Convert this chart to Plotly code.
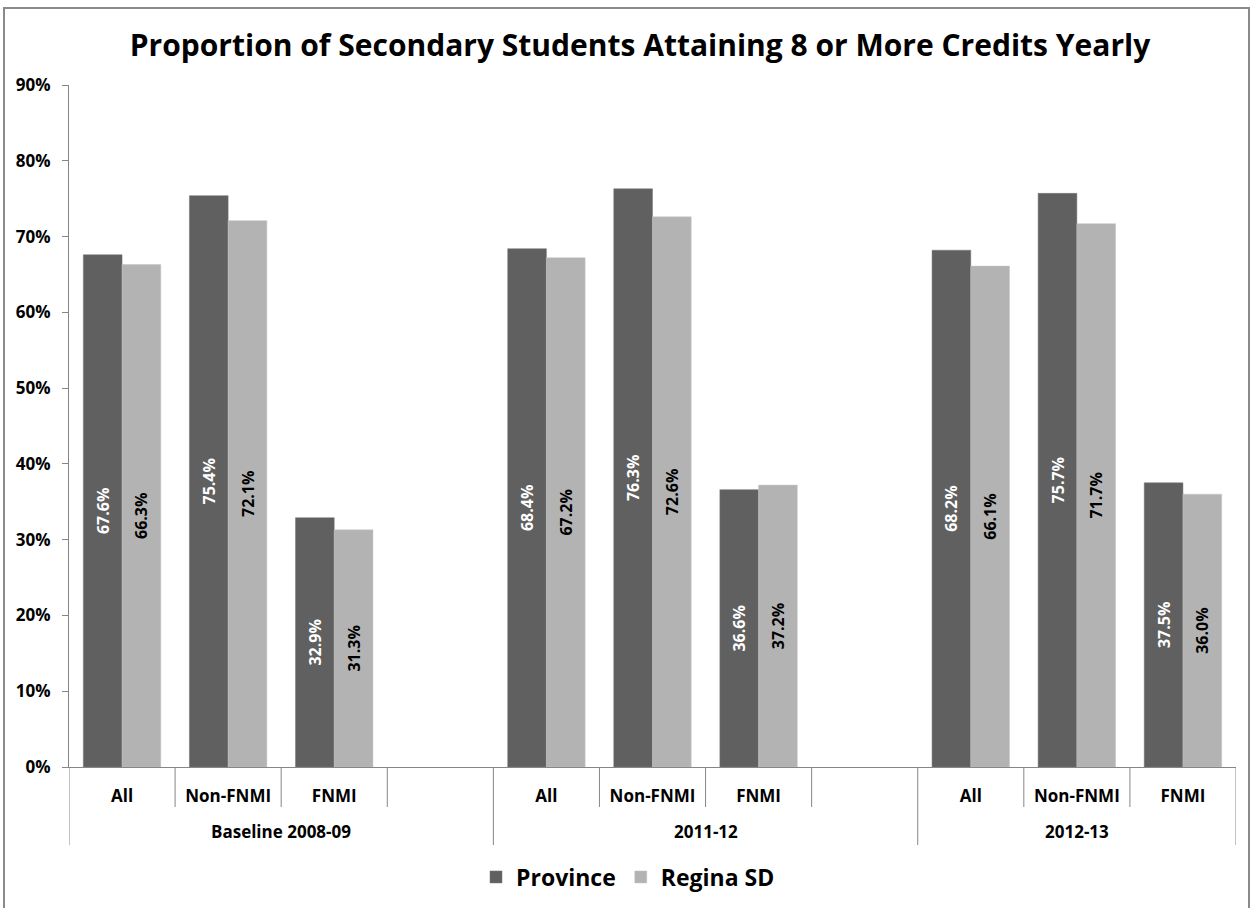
import plotly.graph_objects as go

groups = ["Baseline 2008-09"] * 4 + ["2011-12"] * 4 + ["2012-13"] * 3
subs = ["All", "Non-FNMI", "FNMI", "", "All", "Non-FNMI", "FNMI", "", "All", "Non-FNMI", "FNMI"]
province = [67.6, 75.4, 32.9, None, 68.4, 76.3, 36.6, None, 68.2, 75.7, 37.5]
regina = [66.3, 72.1, 31.3, None, 67.2, 72.6, 37.2, None, 66.1, 71.7, 36.0]
title = "Proportion of Secondary Students Attaining 8 or More Credits Yearly"
yticks = [0, 10, 20, 30, 40, 50, 60, 70, 80, 90]

FONT = "Open Sans"
AX = "#868686"

keys = [f"{g}|{s}|{i}" for i, (g, s) in enumerate(zip(groups, subs))]

def labels(vals):
    return ["" if v is None else f"{v:.1f}%" for v in vals]

fig = go.Figure()
fig.add_trace(go.Bar(
    x=keys, y=province, name="Province",
    marker=dict(color="#606060", line=dict(color="#747474", width=0.5)),
    text=labels(province), textposition="inside", insidetextanchor="middle",
    textangle=-90, textfont=dict(family=FONT, size=16, color="white", weight="bold"),
))
fig.add_trace(go.Bar(
    x=keys, y=regina, name="Regina SD",
    marker=dict(color="#b3b3b3", line=dict(color="#c4c4c4", width=0.5)),
    text=labels(regina), textposition="inside", insidetextanchor="middle",
    textangle=-90, textfont=dict(family=FONT, size=16, color="black", weight="bold"),
))

# plot-area geometry (px)
L, R, T, B = 69, 1236, 85, 767
W, H = R - L, B - T

fig.update_layout(
    width=1251, height=908,
    margin=dict(l=L, r=1251 - R, t=T, b=908 - B, autoexpand=False),
    paper_bgcolor="white", plot_bgcolor="white",
    barmode="group", bargap=0.27, bargroupgap=0,
    font=dict(family=FONT, color="black"),
    title=dict(text=title, x=640 / 1251, xanchor="center", y=1 - 45 / 908, yanchor="middle",
               font=dict(family=FONT, size=30, color="black", weight="bold")),
    legend=dict(orientation="h", x=(628 - L) / W, xanchor="center", y=(B - 877) / H, yanchor="middle",
                font=dict(family=FONT, size=23, color="black", weight="bold"),
                itemwidth=30, traceorder="normal"),
    showlegend=True,
)
fig.update_yaxes(
    range=[0, 90], tickvals=yticks, ticktext=[f"{t}%" for t in yticks],
    showgrid=False, zeroline=False, showline=True, linecolor=AX, linewidth=1,
    ticks="outside", ticklen=6, tickcolor=AX, automargin=False, ticklabelstandoff=8,
    tickfont=dict(family=FONT, size=17, color="black", weight="bold"),
)
fig.update_xaxes(
    type="category", categoryorder="array", categoryarray=keys,
    tickvals=keys, ticktext=subs, range=[-0.5, len(keys) - 0.5],
    showgrid=False, showline=True, linecolor=AX, linewidth=1, ticks="",
    ticklabelstandoff=14, automargin=False,
    tickfont=dict(family=FONT, size=17, color="black", weight="bold"),
)

# category boundary ticks and group dividers
starts = [i for i in range(len(groups)) if i == 0 or groups[i] != groups[i - 1]]
ends = starts[1:] + [len(groups)]
group_bounds = set(starts + [len(groups)])
for b in range(len(groups) + 1):
    depth = 78 if b in group_bounds else 40
    fig.add_shape(type="line", xref="x", yref="paper", x0=b - 0.5, x1=b - 0.5,
                  y0=0, y1=-depth / H, line=dict(color=AX, width=1))
for s, e in zip(starts, ends):
    fig.add_annotation(x=(s + e - 1) / 2, xref="x", y=(B - 832) / H, yref="paper",
                       text=groups[s], showarrow=False, yanchor="middle",
                       font=dict(family=FONT, size=17, color="black", weight="bold"))

# outer chart frame
fig.add_shape(type="rect", xref="paper", yref="paper",
              x0=(4 - L) / W, x1=(1249 - L) / W,
              y0=(B - 940) / H, y1=(B - 8) / H,
              line=dict(color="#8a8a8a", width=2), fillcolor="rgba(0,0,0,0)", layer="below")

fig.write_html("out.html")
